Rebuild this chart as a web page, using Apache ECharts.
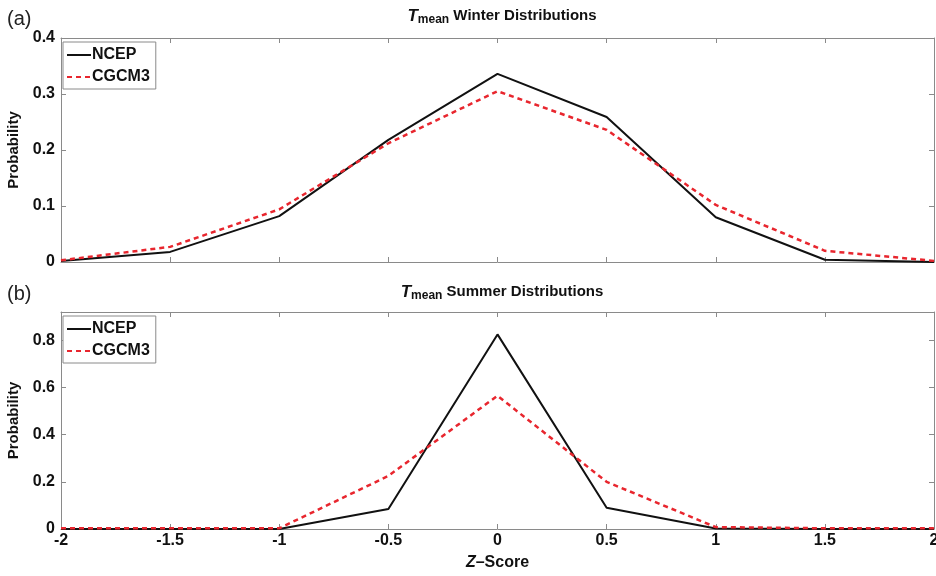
<!DOCTYPE html>
<html>
<head>
<meta charset="utf-8">
<script src="https://cdn.jsdelivr.net/npm/echarts@6/dist/echarts.min.js"></script>
<style>
  html, body { margin: 0; padding: 0; background: #fff; }
  #main { width: 936px; height: 576px; }
</style>
</head>
<body>
<div id="main"></div>
<script>
// z-score bins
const zScores = [-2, -1.5, -1, -0.5, 0, 0.5, 1, 1.5, 2]
const xTicks = [-2, -1.5, -1, -0.5, 0, 0.5, 1, 1.5, 2]

// (a) winter
const winterNcep = [0.002, 0.018, 0.082, 0.218, 0.336, 0.259, 0.08, 0.004, 0.0]
const winterCgcm = [0.003, 0.027, 0.094, 0.212, 0.305, 0.236, 0.102, 0.02, 0.002]

// (b) summer
const summerNcep = [0.0, 0.0, 0.0, 0.085, 0.825, 0.09, 0.002, 0.0, 0.0]
const summerCgcm = [0.003, 0.003, 0.003, 0.225, 0.565, 0.2, 0.008, 0.003, 0.003]

const pairs = (ys) => zScores.map((x, i) => [x, ys[i]])

const labelFont = {
  fontFamily: 'Liberation Sans Narrow, Liberation Sans, Arial, sans-serif',
  fontWeight: 'bold',
  fontSize: 16,
  color: '#111'
}
const frame = '#8a8a8a'

const myChart = echarts.init(document.getElementById('main'))

function xAxes(gridIndex, showLabels) {
  const base = {
    type: 'value',
    gridIndex: gridIndex,
    min: -2,
    max: 2,
    interval: 0.5,
    splitLine: { show: false },
    axisLine: { show: true, onZero: false, lineStyle: { color: frame } },
    axisTick: { show: true, inside: true, length: 5, lineStyle: { color: frame } }
  }
  return [
    Object.assign({}, base, {
      position: 'bottom',
      axisLabel: Object.assign({ show: showLabels, margin: 4 }, labelFont),
      name: showLabels ? '{i|Z}–Score' : '',
      nameLocation: 'middle',
      nameGap: 26,
      nameTextStyle: Object.assign({}, labelFont, {
        rich: { i: Object.assign({}, labelFont, { fontStyle: 'italic' }) }
      })
    }),
    Object.assign({}, base, { position: 'top', axisLabel: { show: false } })
  ]
}

function yAxes(gridIndex, max, interval) {
  const base = {
    type: 'value',
    gridIndex: gridIndex,
    min: 0,
    max: max,
    interval: interval,
    splitLine: { show: false },
    axisLine: { show: true, onZero: false, lineStyle: { color: frame } },
    axisTick: { show: true, inside: true, length: 5, lineStyle: { color: frame } }
  }
  return [
    Object.assign({}, base, {
      position: 'left',
      axisLabel: Object.assign({
        margin: 6,
        showMaxLabel: max === 0.4,
        formatter: (v) => (v === 0 ? '0' : String(+v.toFixed(1)))
      }, labelFont),
      name: 'Probability',
      nameLocation: 'middle',
      nameGap: 32,
      nameTextStyle: Object.assign({}, labelFont, {
        fontFamily: 'Liberation Sans, Arial, sans-serif', fontSize: 15
      })
    }),
    Object.assign({}, base, { position: 'right', axisLabel: { show: false } })
  ]
}

function legendAt(top) {
  return {
    left: 63,
    top: top,
    orient: 'vertical',
    data: ['NCEP', 'CGCM3'],
    itemWidth: 24,
    itemHeight: 12,
    itemGap: 6,
    padding: [5, 6, 4, 3],
    borderColor: frame,
    borderWidth: 1,
    backgroundColor: '#fff',
    selectedMode: false,
    itemStyle: { opacity: 0 },
    textStyle: Object.assign({}, labelFont, { padding: [0, 0, 0, -4] })
  }
}

function lineSeries(name, data, xi, yi) {
  const red = name === 'CGCM3'
  return {
    name: name,
    type: 'line',
    xAxisIndex: xi,
    yAxisIndex: yi,
    data: pairs(data),
    symbol: 'none',
    z: red ? 3 : 2,
    lineStyle: red
      ? { color: '#e8262e', width: 2.5, type: [5, 4] }
      : { color: '#111', width: 2 },
    itemStyle: { color: red ? '#e8262e' : '#111' }
  }
}

const titleRich = {
  t: { fontFamily: 'Liberation Sans, Arial, sans-serif', fontSize: 17, fontWeight: 'bold', fontStyle: 'italic', color: '#111' },
  s: { fontFamily: 'Liberation Sans, Arial, sans-serif', fontSize: 12, fontWeight: 'bold', color: '#111', padding: [8, 0, 0, 0] },
  n: { fontFamily: 'Liberation Sans, Arial, sans-serif', fontSize: 15, fontWeight: 'bold', color: '#111' }
}

myChart.setOption({
  animation: false,
  backgroundColor: '#fff',
  title: [
    { text: '{t|T}{s|mean}{n| Winter Distributions}', left: 497, top: 1, textAlign: 'center', textStyle: { rich: titleRich } },
    { text: '{t|T}{s|mean}{n| Summer Distributions}', left: 497, top: 277, textAlign: 'center', textStyle: { rich: titleRich } },
    { text: '(a)', left: 2, top: 4, textStyle: { fontFamily: 'Liberation Sans, Arial, sans-serif', fontSize: 20, fontWeight: 'normal', color: '#222' } },
    { text: '(b)', left: 2, top: 279, textStyle: { fontFamily: 'Liberation Sans, Arial, sans-serif', fontSize: 20, fontWeight: 'normal', color: '#222' } }
  ],
  legend: [legendAt(42), legendAt(316)],
  grid: [
    { left: 61, right: 2, top: 38, height: 224, outerBoundsMode: 'none' },
    { left: 61, right: 2, top: 312, height: 217, outerBoundsMode: 'none' }
  ],
  xAxis: [].concat(xAxes(0, false), xAxes(1, true)),
  yAxis: [].concat(yAxes(0, 0.4, 0.1), yAxes(1, 0.92, 0.2)),
  series: [
    lineSeries('NCEP', winterNcep, 0, 0),
    lineSeries('CGCM3', winterCgcm, 0, 0),
    lineSeries('NCEP', summerNcep, 2, 2),
    lineSeries('CGCM3', summerCgcm, 2, 2)
  ]
})
</script>
</body>
</html>
